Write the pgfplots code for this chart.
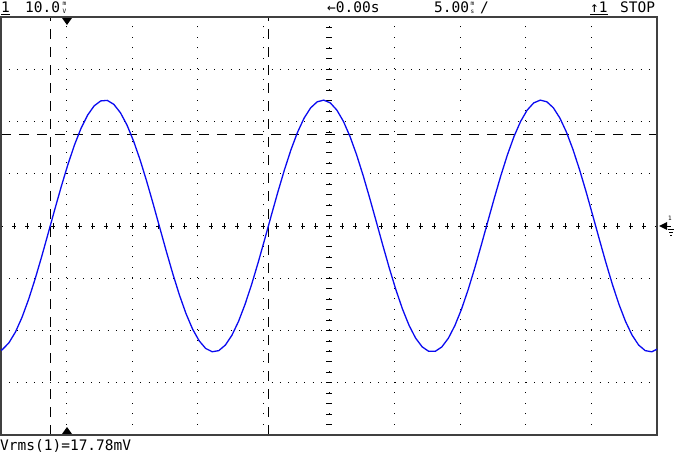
\documentclass[border=0pt]{standalone}
\usepackage{pgfplots}
\pgfplotsset{compat=1.18}
\usepackage{fontspec}
\setmonofont{DejaVu Sans Mono}
\newcommand{\lcdfont}{\fontsize{14.5}{14.5}\selectfont\ttfamily}
\newcommand{\unitfont}{\fontsize{6}{7.8}\selectfont\ttfamily}

\begin{document}
\begin{tikzpicture}[x=1pt, y=1pt]
\path[use as bounding box] (-1,-17) rectangle (673,435);
% screen graticule: 10 x 8 divisions, 65.6pt x 52.25pt each
\foreach \i in {1,2,3,4,6,7,8,9}
  \draw[black, line width=0.9pt, dash pattern=on 1pt off 9.45pt] (\i*65.6,0) -- (\i*65.6,418);
\foreach \j in {1,2,3,5,6,7}
  \draw[black, line width=0.9pt, dash pattern=on 1pt off 7.2pt] (0,\j*52.25) -- (656,\j*52.25);
% centre lines with minor ticks
\draw[black, line width=0.8pt, dash pattern=on 4pt off 9.12pt, dash phase=2pt] (0,209) -- (656,209);
\draw[black, line width=0.8pt, dash pattern=on 1pt off 9.45pt] (328,0) -- (328,418);
\foreach \k in {1,...,49}
  \draw[black, line width=0.8pt] (\k*13.12,206) -- (\k*13.12,212);
\foreach \k in {1,...,39}
  \draw[black, line width=0.8pt] (325,\k*10.45) -- (331,\k*10.45);
% cursors
\draw[black, line width=0.9pt, dash pattern=on 10pt off 8pt] (49,0) -- (49,418);
\draw[black, line width=0.9pt, dash pattern=on 10pt off 8pt] (267,0) -- (267,418);
\draw[black, line width=0.9pt, dash pattern=on 10pt off 8pt] (0,301) -- (656,301);
% trigger position markers
\fill[black] (61,417) -- (71,417) -- (66,410) -- cycle;
\fill[black] (61,1) -- (71,1) -- (66,8) -- cycle;

\begin{axis}[
    at={(0,0)}, anchor=south west,
    width=656pt, height=418pt, scale only axis,
    xmin=0, xmax=10, ymin=-4, ymax=4,
    xtick=\empty, ytick=\empty,
    axis line style={draw=black!75, line width=1.1pt},
]
% waveform
\addplot[color={rgb,255:red,10;green,10;blue,240}, line width=1.3pt] coordinates {
(0.00,-2.38) (0.02,-2.366) (0.12,-2.237) (0.22,-2.030) (0.32,-1.749) (0.42,-1.407)
(0.52,-1.014) (0.62,-0.586) (0.72,-0.136) (0.82,0.318) (0.92,0.761)
(1.02,1.177) (1.12,1.551) (1.22,1.870) (1.32,2.122) (1.42,2.299)
(1.52,2.394) (1.62,2.404) (1.72,2.328) (1.82,2.169) (1.92,1.934)
(2.02,1.629) (2.12,1.267) (2.22,0.859) (2.32,0.421) (2.42,-0.032)
(2.52,-0.484) (2.62,-0.919) (2.72,-1.321) (2.82,-1.676) (2.92,-1.972)
(3.02,-2.196) (3.12,-2.344) (3.22,-2.407) (3.32,-2.385) (3.42,-2.279)
(3.52,-2.091) (3.62,-1.828) (3.72,-1.500) (3.82,-1.120) (3.92,-0.699)
(4.02,-0.254) (4.12,0.201) (4.22,0.648) (4.32,1.072) (4.42,1.459)
(4.52,1.793) (4.62,2.064) (4.72,2.261) (4.82,2.377) (4.92,2.409)
(5.02,2.356) (5.12,2.218) (5.22,2.002) (5.32,1.714) (5.42,1.365)
(5.52,0.968) (5.62,0.536) (5.72,0.086) (5.82,-0.368) (5.92,-0.809)
(6.02,-1.221) (6.12,-1.589) (6.22,-1.901) (6.32,-2.145) (6.42,-2.313)
(6.52,-2.399) (6.62,-2.399) (6.72,-2.314) (6.82,-2.147) (6.92,-1.903)
(7.02,-1.591) (7.12,-1.223) (7.22,-0.812) (7.32,-0.371) (7.42,0.083)
(7.52,0.534) (7.62,0.966) (7.72,1.363) (7.82,1.712) (7.92,2.000)
(8.02,2.217) (8.12,2.355) (8.22,2.409) (8.32,2.378) (8.42,2.262)
(8.52,2.065) (8.62,1.795) (8.72,1.461) (8.82,1.075) (8.92,0.651)
(9.02,0.204) (9.12,-0.251) (9.22,-0.697) (9.32,-1.118) (9.42,-1.499)
(9.52,-1.826) (9.62,-2.089) (9.72,-2.278) (9.82,-2.385) (9.92,-2.408)
(10.02,-2.344)
};
\end{axis}

% channel ground marker at the right edge
\fill[black] (658,209) -- (666,213) -- (666,205) -- cycle;
\draw[black, line width=0.8pt] (666,209) -- (670,209);
\draw[black, line width=0.8pt] (667,206) -- (673,206);
\draw[black, line width=0.8pt] (668,203) -- (672,203);
\draw[black, line width=0.8pt] (669,200) -- (671,200);
\node[anchor=base west, inner sep=0pt, font=\unitfont] at (667,214) {1};

% status line
\node[anchor=base west, inner sep=0pt, font=\lcdfont] at (0,422) {\underline{1}};
\node[anchor=base west, inner sep=0pt, font=\lcdfont] at (24,422) {10.0};
\node[anchor=south west, inner sep=0pt, font=\unitfont, align=center] at (61.5,421) {m\\V};
\node[anchor=base west, inner sep=0pt, font=\lcdfont] at (326,422) {←0.00s};
\node[anchor=base west, inner sep=0pt, font=\lcdfont] at (433,422) {5.00};
\node[anchor=south west, inner sep=0pt, font=\unitfont, align=center] at (469.5,421) {m\\s};
\node[anchor=base west, inner sep=0pt, font=\lcdfont] at (479,422) {/};
\node[anchor=base west, inner sep=0pt, font=\lcdfont] at (589,422) {\underline{↑1}};
\node[anchor=base west, inner sep=0pt, font=\lcdfont] at (619,422) {STOP};

% measurement line
\node[anchor=base west, inner sep=0pt, font=\lcdfont] at (-1,-15) {Vrms(1)=17.78mV};
\end{tikzpicture}
\end{document}
